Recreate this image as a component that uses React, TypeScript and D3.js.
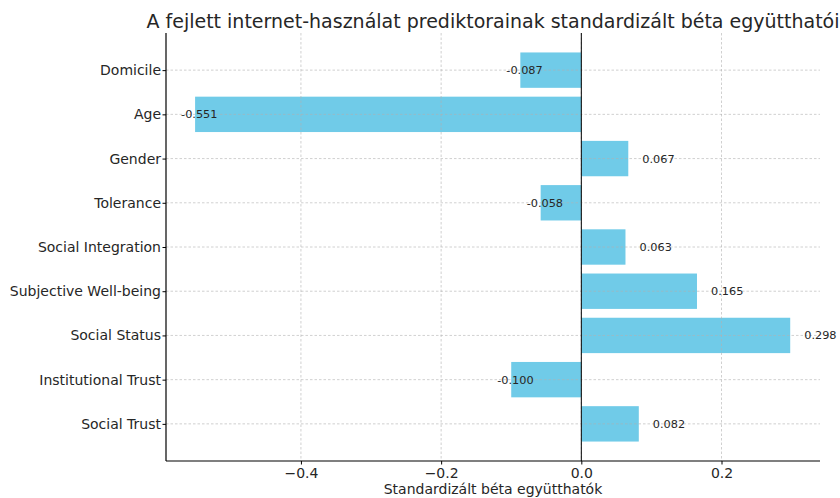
import * as d3 from "d3";
import { useEffect, useRef } from "react";

// predictors, bottom to top (as in the chart)
const categories = [
  "Social Trust",
  "Institutional Trust",
  "Social Status",
  "Subjective Well-being",
  "Social Integration",
  "Tolerance",
  "Gender",
  "Age",
  "Domicile",
];
const betas = [0.082, -0.1, 0.298, 0.165, 0.063, -0.058, 0.067, -0.551, -0.087];
const xTicks = [-0.4, -0.2, 0.0, 0.2];

const title = "A fejlett internet-használat prediktorainak standardizált béta együtthatói";
const xLabel = "Standardizált béta együtthatók";

export default function App() {
  const svgRef = useRef(null);
  const width = 840;
  const height = 498;
  const plot = { left: 166, right: 820, top: 33, bottom: 461 };
  const font = "DejaVu Sans, sans-serif";

  useEffect(() => {
    const svg = d3.select(svgRef.current);
    svg.selectAll("*").remove();

    const x = d3.scaleLinear().domain([-0.5925, 0.3405]).range([plot.left, plot.right]);
    const y = d3.scaleLinear().domain([-0.84, 8.84]).range([plot.bottom, plot.top]);
    const bh = y(0) - y(0.8);

    const data = categories.map((c, i) => ({ name: c, value: betas[i], idx: i }));

    // bars
    svg
      .append("g")
      .selectAll("rect")
      .data(data)
      .join("rect")
      .attr("x", (d) => x(Math.min(0, d.value)))
      .attr("width", (d) => Math.abs(x(d.value) - x(0)))
      .attr("y", (d) => y(d.idx) - bh / 2)
      .attr("height", bh)
      .attr("fill", "#70cbe8");

    // grid (drawn over bars)
    const grid = svg.append("g").attr("stroke", "#b0b0b0").attr("stroke-opacity", 0.6).attr("stroke-dasharray", "2.5,2");
    grid
      .selectAll("line.v")
      .data(xTicks)
      .join("line")
      .attr("x1", (d) => x(d))
      .attr("x2", (d) => x(d))
      .attr("y1", plot.top)
      .attr("y2", plot.bottom);
    grid
      .selectAll("line.h")
      .data(data)
      .join("line")
      .attr("x1", plot.left)
      .attr("x2", plot.right)
      .attr("y1", (d) => y(d.idx))
      .attr("y2", (d) => y(d.idx));

    // zero line
    svg
      .append("line")
      .attr("x1", x(0))
      .attr("x2", x(0))
      .attr("y1", plot.top)
      .attr("y2", plot.bottom)
      .attr("stroke", "#000")
      .attr("stroke-width", 1);

    // value labels
    svg
      .append("g")
      .selectAll("text")
      .data(data)
      .join("text")
      .attr("x", (d) => x(d.value > 0 ? d.value + 0.02 : d.value - 0.02))
      .attr("y", (d) => y(d.idx))
      .attr("dy", "0.35em")
      .attr("font-family", font)
      .attr("font-size", 11.3)
      .attr("fill", "#262626")
      .text((d) => d.value.toFixed(3));

    // axes
    const xAxis = svg
      .append("g")
      .attr("transform", `translate(0, ${plot.bottom})`)
      .call(
        d3
          .axisBottom(x)
          .tickValues(xTicks)
          .tickSize(3.5)
          .tickPadding(4)
          .tickFormat((d) => (d as number).toFixed(1).replace("-", "\u2212"))
      );
    xAxis.select(".domain").attr("d", `M${plot.left},0H${plot.right}`).attr("stroke-width", 1.2);

    const yAxis = svg
      .append("g")
      .attr("transform", `translate(${plot.left}, 0)`)
      .call(
        d3
          .axisLeft(y)
          .tickValues(d3.range(categories.length))
          .tickSize(3.5)
          .tickPadding(1.5)
          .tickFormat((d) => categories[d as number])
      );
    yAxis.select(".domain").attr("d", `M0,${plot.top}V${plot.bottom}`).attr("stroke-width", 1.2);

    svg.selectAll(".tick text").attr("font-family", font).attr("font-size", 14).attr("fill", "#262626");

    // title + axis label
    svg
      .append("text")
      .attr("x", (plot.left + plot.right) / 2)
      .attr("y", 28)
      .attr("text-anchor", "middle")
      .attr("font-family", font)
      .attr("font-size", 19)
      .attr("fill", "#262626")
      .text(title);
    svg
      .append("text")
      .attr("x", (plot.left + plot.right) / 2)
      .attr("y", 494)
      .attr("text-anchor", "middle")
      .attr("font-family", font)
      .attr("font-size", 14)
      .attr("fill", "#262626")
      .text(xLabel);
  }, []);

  return (
    <svg
      ref={svgRef}
      width={width}
      height={height}
      style={{ position: "absolute", left: 0, top: 0, background: "#fff" }}
    ></svg>
  );
}
